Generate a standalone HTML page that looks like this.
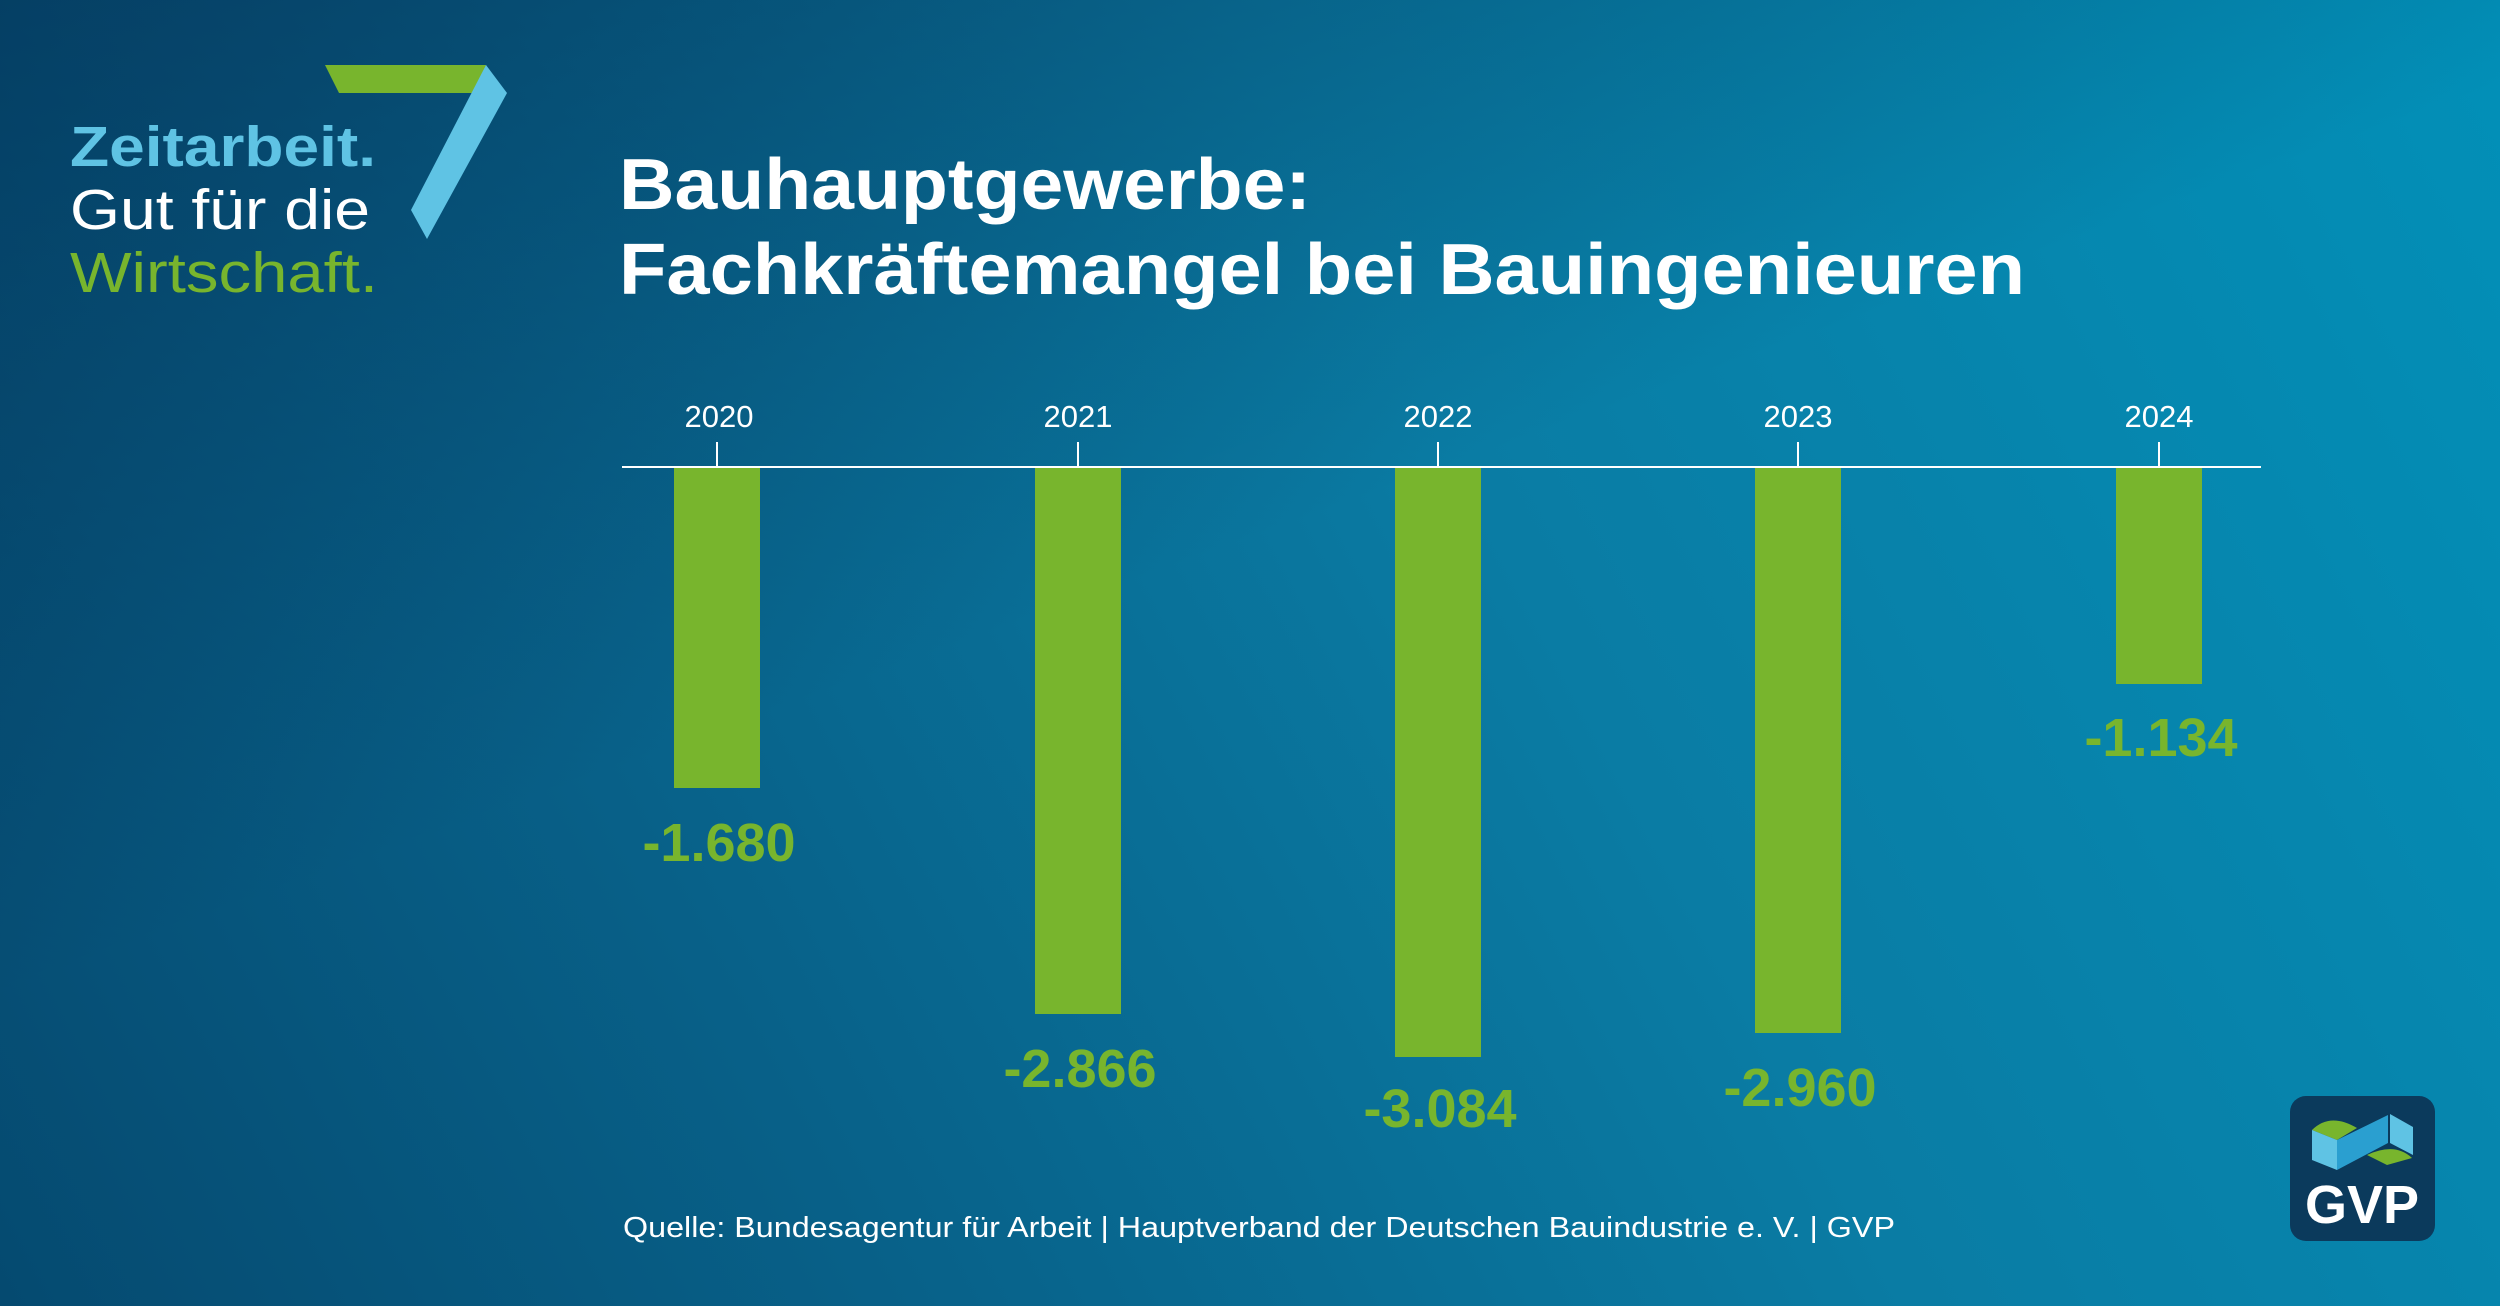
<!DOCTYPE html>
<html><head><meta charset="utf-8"><style>
html,body{margin:0;padding:0}
body{width:2500px;height:1306px;overflow:hidden;position:relative;font-family:"Liberation Sans",sans-serif;
background:linear-gradient(62deg,#054a70 0%,#08628a 30%,#0a7ca4 60%,#0290b8 100%);}
.dk{position:absolute;inset:0;background:linear-gradient(160deg,rgba(3,40,75,0.55) 0%,rgba(3,40,75,0) 45%);}
</style></head><body>
<div class="dk"></div>
<svg width="2500" height="1306" style="position:absolute;left:0;top:0">
<polygon points="325,65 486,65 473,93 339,93" fill="#78b52d"/>
<polygon points="486,65 507,93 427,239 411,210" fill="#5fc3e4"/>
<line x1="622" y1="467" x2="2261" y2="467" stroke="#fff" stroke-width="2"/>
<g stroke="#fff" stroke-width="2">
<line x1="717" y1="442" x2="717" y2="467"/><line x1="1078" y1="442" x2="1078" y2="467"/>
<line x1="1438" y1="442" x2="1438" y2="467"/><line x1="1798" y1="442" x2="1798" y2="467"/>
<line x1="2159" y1="442" x2="2159" y2="467"/></g>
<g fill="#78b52d">
<rect x="674" y="468" width="86" height="320"/>
<rect x="1035" y="468" width="86" height="546"/>
<rect x="1395" y="468" width="86" height="589"/>
<rect x="1755" y="468" width="86" height="565"/>
<rect x="2116" y="468" width="86" height="216"/>
</g>
<g font-family="Liberation Sans" font-size="31" fill="#fff" text-anchor="middle">
<text x="719" y="427">2020</text><text x="1078" y="427">2021</text><text x="1438" y="427">2022</text><text x="1798" y="427">2023</text><text x="2159" y="427">2024</text>
</g>
<g font-family="Liberation Sans" font-size="54" font-weight="bold" fill="#78b52d" text-anchor="middle">
<text x="719" y="861">-1.680</text><text x="1080" y="1087">-2.866</text><text x="1440" y="1127">-3.084</text><text x="1800" y="1106">-2.960</text><text x="2161" y="756">-1.134</text>
</g>
<text x="70" y="166" font-family="Liberation Sans" font-size="57" font-weight="bold" fill="#5fc3e4" textLength="306" lengthAdjust="spacingAndGlyphs">Zeitarbeit.</text>
<text x="70" y="229" font-family="Liberation Sans" font-size="57" fill="#fff" textLength="300" lengthAdjust="spacingAndGlyphs">Gut für die</text>
<text x="70" y="292" font-family="Liberation Sans" font-size="57" fill="#78b52d" textLength="308" lengthAdjust="spacingAndGlyphs">Wirtschaft.</text>
<text x="619" y="209" font-family="Liberation Sans" font-size="72" font-weight="bold" fill="#fff" textLength="692" lengthAdjust="spacingAndGlyphs">Bauhauptgewerbe:</text>
<text x="619" y="294" font-family="Liberation Sans" font-size="72" font-weight="bold" fill="#fff" textLength="1406" lengthAdjust="spacingAndGlyphs">Fachkräftemangel bei Bauingenieuren</text>
<text x="623" y="1237" font-family="Liberation Sans" font-size="29" fill="#fff" textLength="1272" lengthAdjust="spacingAndGlyphs">Quelle: Bundesagentur für Arbeit | Hauptverband der Deutschen Bauindustrie e. V. | GVP</text>
<rect x="2290" y="1096" width="145" height="145" rx="16" fill="#0b3a5c"/>
<path d="M2312,1130 Q2330,1112 2357,1128 L2337,1140 Z" fill="#78b52d"/>
<path d="M2367,1155 Q2395,1142 2412,1158 L2387,1165 Z" fill="#78b52d"/>
<polygon points="2312,1130 2337,1140 2337,1170 2312,1160" fill="#5fc3e4"/>
<polygon points="2337,1140 2388,1115 2388,1143 2337,1170" fill="#2a9fd0"/>
<polygon points="2390,1114 2413,1127 2413,1155 2390,1143" fill="#5fc3e4"/>
<text x="2362" y="1223" font-family="Liberation Sans" font-size="54" font-weight="bold" fill="#fff" text-anchor="middle">GVP</text>
</svg>
</body></html>
